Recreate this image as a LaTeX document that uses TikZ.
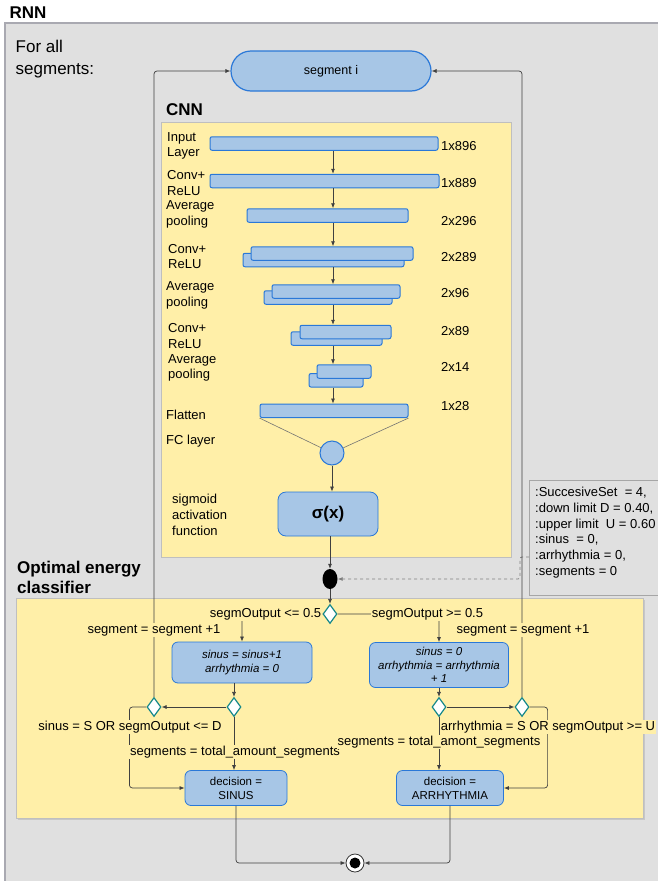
\documentclass[tikz,border=0pt]{standalone}
\usepackage{fontspec}
\setmainfont{Liberation Sans}
\usetikzlibrary{arrows.meta,shapes.geometric}
\definecolor{bggray}{HTML}{E0E0E0}
\definecolor{framegray}{HTML}{A9A9B1}
\definecolor{panel}{HTML}{FFEFA8}
\definecolor{bluefill}{HTML}{A7C6E6}
\definecolor{blueline}{HTML}{2A78D8}
\definecolor{cteal}{HTML}{15888A}
\begin{document}
\begin{tikzpicture}[x=1pt, y=-1pt, >={Latex[length=5pt,width=4pt]},
    txt/.style={font=\fontsize{13}{15.5}\selectfont, inner sep=0, align=left},
    hdr/.style={font=\fontsize{17}{20}\selectfont\bfseries, inner sep=0, align=left, anchor=west},
    layer/.style={draw=blueline, fill=bluefill, line width=1pt, rounded corners=2pt, inner sep=0, minimum height=13.5pt},
    act/.style={draw=blueline, fill=bluefill, line width=0.8pt, rounded corners=6pt, inner sep=2pt, align=center, font=\fontsize{11.5}{14}\selectfont},
    cond/.style={diamond, draw=cteal, fill=white, line width=1.2pt, minimum width=14pt, minimum height=19pt, inner sep=0},
    flow/.style={draw=black!75, line width=0.7pt, rounded corners=3pt},
    guard/.style={font=\fontsize{13}{15.5}\selectfont, fill=panel, inner sep=1pt}]
    \useasboundingbox (0,0) rectangle (657,881);
    \fill[bggray] (5,23) rectangle (670,890);
    \draw[framegray, line width=1.5pt] (5,890) -- (5,23) -- (670,23);
    \node[hdr] (rnn) at (9.5,13) {RNN};
    \node[txt, anchor=west, font=\fontsize{17}{22}\selectfont] (forall) at (15.5,59) {For all\\segments:};

    \node[draw=blueline, fill=bluefill, line width=1.2pt, rounded corners=20pt, minimum width=200pt, minimum height=40pt, font=\fontsize{12.5}{15}\selectfont] (seg) at (331,71) {segment i};

    % CNN
    \node[hdr] (cnnhdr) at (166,110) {CNN};
    \filldraw[fill=panel, draw=black!25, line width=1pt] (161,122) rectangle (511,557);
    \node[layer, minimum width=228pt] (l1) at (324,143.5) {};
    \node[layer, minimum width=229pt] (l2) at (324.5,181) {};
    \node[layer, minimum width=161pt] (l3) at (327.5,215.5) {};
    \node[layer, minimum width=161pt] (l4b) at (323.5,260) {};
    \node[layer, minimum width=162pt] (l4) at (332,253.5) {};
    \node[layer, minimum width=128pt] (l5b) at (328,297.5) {};
    \node[layer, minimum width=128pt] (l5) at (336,291.5) {};
    \node[layer, minimum width=91pt] (l6b) at (336.5,338.5) {};
    \node[layer, minimum width=91pt] (l6) at (345.5,332) {};
    \node[layer, minimum width=54pt] (l7b) at (336,380.3) {};
    \node[layer, minimum width=54pt] (l7) at (344,371.5) {};
    \node[layer, minimum width=148pt] (l8) at (334,410.8) {};
    \coordinate (axis) at (333,0);
    \foreach \ab/\b in {l1/l2, l2/l3, l3/l4, l4b/l5, l5b/l6, l6b/l7, l7b/l8}
        \draw[flow, ->] (axis |- \ab.south) -- (axis |- \b.north);

    \foreach \x/\y/\t [count=\i] in {167/146/Input\\Layer, 167/183/Conv+\\ReLU, 166/214.5/Average\\pooling,
            168/256.5/Conv+\\ReLU, 166/295.5/Average\\pooling, 168/336/Conv+\\ReLU,
            168/368/Average\\pooling, 166/415/Flatten, 166/441/FC layer}
        \node[txt, anchor=west] (lay\i) at (\x,\y) {\t};
    \node[txt, anchor=west, font=\fontsize{13}{16}\selectfont] (sigtxt) at (172,515) {sigmoid\\activation\\function};
    \foreach \y/\t in {146/1x896, 183/1x889, 220.7/2x296, 256.7/2x289, 293/2x96, 330.7/2x89, 367/2x14, 405.6/1x28}
        \node[txt, anchor=west] (size-\t) at (441,\y) {\t};

    \node[circle, draw=blueline, fill=bluefill, line width=1pt, minimum size=24pt, inner sep=0] (fc) at (332,453) {};
    \draw[black!55, line width=0.6pt] (l8.south west) -- (fc) (l8.south east) -- (fc);
    \node[act, minimum width=100pt, minimum height=44pt, rounded corners=8pt, font=\fontsize{17}{20}\selectfont\bfseries] (sig) at (328,514) {σ(x)};
    \draw[flow, ->] (fc) -- (fc |- sig.north);

    % variables and join
    \node[draw=black!35, fill=bggray, line width=1pt, minimum width=141pt, minimum height=115pt, anchor=north west] (vars) at (529,480) {};
    \node[txt, anchor=north west, font=\fontsize{13}{15.7}\selectfont] (varstext) at (535,487) {:SuccesiveSet\ \ = 4,\\:down limit D = 0.40,\\:upper limit\ \ U = 0.60\\:sinus\ \ = 0,\\:arrhythmia = 0,\\:segments = 0};
    \node[ellipse, fill=black, minimum width=15pt, minimum height=20pt, inner sep=0] (join) at (330,579) {};
    \draw[flow, ->] (join |- sig.south) -- (join);
    \draw[dashed, black!50, line width=0.8pt, rounded corners=2pt, ->] ([yshift=-77pt]vars.north west) -- ++(-9,0) |- (join);

    % Optimal energy classifier
    \node[hdr] (oechdr) at (17,577) {Optimal energy\\classifier};
    \fill[black!22] (17.5,599.5) rectangle (644.5,819.5);
    \filldraw[fill=panel, draw=black!25, line width=1pt] (16,598) rectangle (643,818);

    \node[cond] (d0) at (330,614) {};
    \node[act, font=\fontsize{11.5}{14}\selectfont\itshape, minimum width=140pt, minimum height=41pt] (box1) at (242,662.5) {sinus = sinus+1\\arrhythmia = 0};
    \node[act, font=\fontsize{11.5}{13.8}\selectfont\itshape, minimum width=139pt, minimum height=45pt] (box2) at (439,665) {sinus = 0\\arrhythmia = arrhythmia\\+ 1};
    \node[cond] (dLO) at (154,707) {};
    \node[cond] (dLI) at (234,707) {};
    \node[cond] (dRI) at (439,707) {};
    \node[cond] (dRO) at (522,707) {};
    \node[act, minimum width=102pt, minimum height=35pt] (sinus) at (236,788) {decision =\\SINUS};
    \node[act, minimum width=107pt, minimum height=35pt] (arrh) at (450,788) {decision =\\ARRHYTHMIA};
    \node[circle, draw=black!80, fill=white, line width=0.8pt, minimum size=18pt, inner sep=0] (fin) at (355,863) {};
    \fill[black] (fin) circle (5.5);

    \draw[flow, ->] (join) -- (d0);
    \draw[flow, ->] (d0.west) -| (box1.north);
    \draw[flow, ->] (d0.east) -| (box2.north);
    \draw[flow, ->] (dLI |- box1.south) -- (dLI);
    \draw[flow, ->] (box2) -- (dRI);
    \draw[flow, ->] (dLI) -- (dLO);
    \draw[flow, ->] (dRI) -- (dRO);
    \draw[flow, ->] (dLO.north) |- (seg.west);
    \draw[flow, ->] (dRO.north) |- (seg.east);
    \draw[flow, ->] (dLO.west) -- ++(-17,0) |- (sinus.west);
    \draw[flow, ->] (dRO.east) -- ++(18,0) |- (arrh.east);
    \draw[flow, ->] (dLI.south) -- (dLI.south |- sinus.north);
    \draw[flow, ->] (dRI.south) -- (dRI.south |- arrh.north);
    \draw[flow, ->] (sinus.south) |- (fin.west);
    \draw[flow, ->] (arrh.south) |- (fin.east);

    \node[guard, anchor=east] (g1) at (d0.west) {segmOutput <= 0.5};
    \node[guard, anchor=west] (g2) at ([xshift=33pt]d0.east) {segmOutput >= 0.5};
    \node[guard] (g3) at (154,630) {segment = segment +1};
    \node[guard] (g4) at (523,630) {segment = segment +1};
    \node[guard] (g5) at (130,727) {sinus = S OR segmOutput <= D};
    \node[guard] (g6) at (235,752) {segments = total\_amount\_segments};
    \node[guard] (g7) at (548,727) {arrhythmia = S OR segmOutput >= U};
    \node[guard] (g8) at (439,742) {segments = total\_amont\_segments};
\end{tikzpicture}
\end{document}
